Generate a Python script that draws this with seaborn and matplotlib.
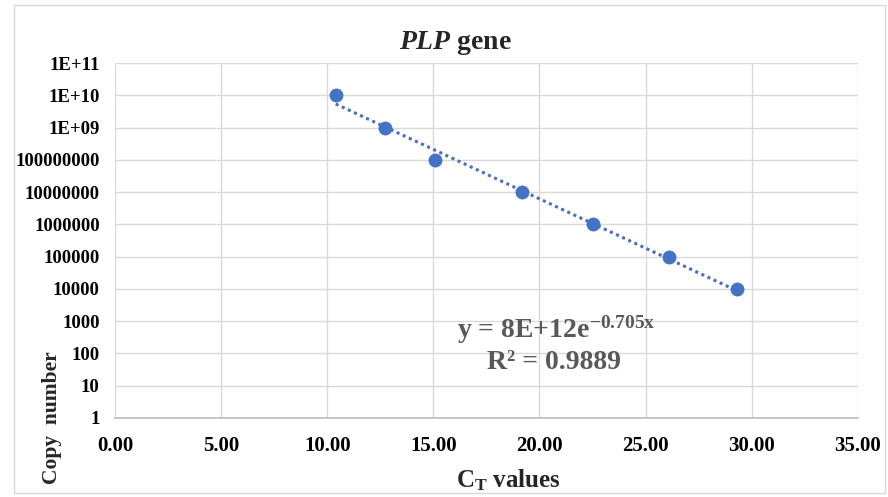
import numpy as np
import pandas as pd
import matplotlib
matplotlib.use("Agg")
import matplotlib.pyplot as plt
import seaborn as sns
from matplotlib.patches import Rectangle

ct_values = [10.4, 12.7, 15.1, 19.2, 22.5, 26.1, 29.3]
copy_numbers = [1e10, 1e9, 1e8, 1e7, 1e6, 1e5, 1e4]
y_tick_values = [1, 10, 100, 1000, 1e4, 1e5, 1e6, 1e7, 1e8, 1e9, 1e10, 1e11]
y_tick_labels = ["1", "10", "100", "1000", "10000", "100000", "1000000",
                 "10000000", "100000000", "1E+09", "1E+10", "1E+11"]
x_tick_values = [0, 5, 10, 15, 20, 25, 30, 35]
x_tick_labels = ["0.00", "5.00", "10.00", "15.00", "20.00", "25.00", "30.00", "35.00"]
equation_text = "y = 8E+12e$^{\\mathrm{-0.705x}}$"
r2_text = "R² = 0.9889"

sns.set_theme(style="whitegrid")
plt.rcParams["font.family"] = ["Liberation Serif", "DejaVu Serif"]
plt.rcParams["font.weight"] = "bold"
plt.rcParams["mathtext.fontset"] = "custom"
plt.rcParams["mathtext.rm"] = "Liberation Serif:bold"
plt.rcParams["mathtext.it"] = "Liberation Serif:italic:bold"
plt.rcParams["mathtext.bf"] = "Liberation Serif:bold"

df = pd.DataFrame({"ct": ct_values, "copies": copy_numbers})

# exponential trendline fit
b, loga = np.polyfit(df["ct"], np.log(df["copies"]), 1)
xs = np.linspace(min(ct_values), max(ct_values), 50)
trend = pd.DataFrame({"ct": xs, "copies": np.exp(loga) * np.exp(b * xs)})

fig = plt.figure(figsize=(8.88, 4.97), dpi=100)
ax = fig.add_axes([0.1295, 0.159, 0.8365, 0.714])

blue = "#4472C4"
sns.lineplot(data=trend, x="ct", y="copies", ax=ax, color="#4a6fb5",
             linestyle=(0, (1, 1.2)), linewidth=2.2, zorder=2)
sns.scatterplot(data=df, x="ct", y="copies", ax=ax, color=blue, s=90,
                edgecolor=blue, linewidth=0.5, zorder=3)

ax.set_yscale("log")
ax.set_xlim(0, 35)
ax.set_ylim(1, 1e11)
ax.set_yticks(y_tick_values)
ax.set_yticklabels(y_tick_labels)
ax.yaxis.set_minor_locator(matplotlib.ticker.NullLocator())
ax.set_xticks(x_tick_values)
ax.set_xticklabels(x_tick_labels)
ax.tick_params(axis="both", length=0, colors="black")
ax.tick_params(axis="x", pad=13, labelsize=15)
ax.tick_params(axis="y", pad=11, labelsize=13.5)
for lbl in ax.get_xticklabels() + ax.get_yticklabels():
    lbl.set_fontweight("bold")

ax.grid(True, color="#d9d9d9", linewidth=1)
for side, sp in ax.spines.items():
    sp.set_visible(False)
ax.spines["bottom"].set_visible(True)
ax.spines["bottom"].set_color("#bfbfbf")
ax.set_xlabel("")
ax.set_ylabel("")
ax.set_facecolor("white")

# figure border
fig.patches.append(Rectangle((0.016, 0.008), 0.981, 0.982, transform=fig.transFigure,
                             fill=False, edgecolor="#d9d9d9", linewidth=1))

fig.text(0.513, 0.914, "$\\mathit{PLP}$ gene", ha="center", va="center",
         fontsize=20, fontweight="bold")
fig.text(0.572, 0.034, "C$_\\mathrm{T}$ values", ha="center", va="center",
         fontsize=18, fontweight="bold")
fig.text(0.058, 0.16, "Copy  number", rotation=90, ha="center", va="center",
         fontsize=15.5, fontweight="bold")

ax.text(20.8, 5.5e2, equation_text, ha="center", va="center", fontsize=20,
        fontweight="bold", color="#595959")
ax.text(20.7, 54, r2_text, ha="center", va="center", fontsize=20,
        fontweight="bold", color="#595959")

fig.savefig("out.png", dpi=100)
